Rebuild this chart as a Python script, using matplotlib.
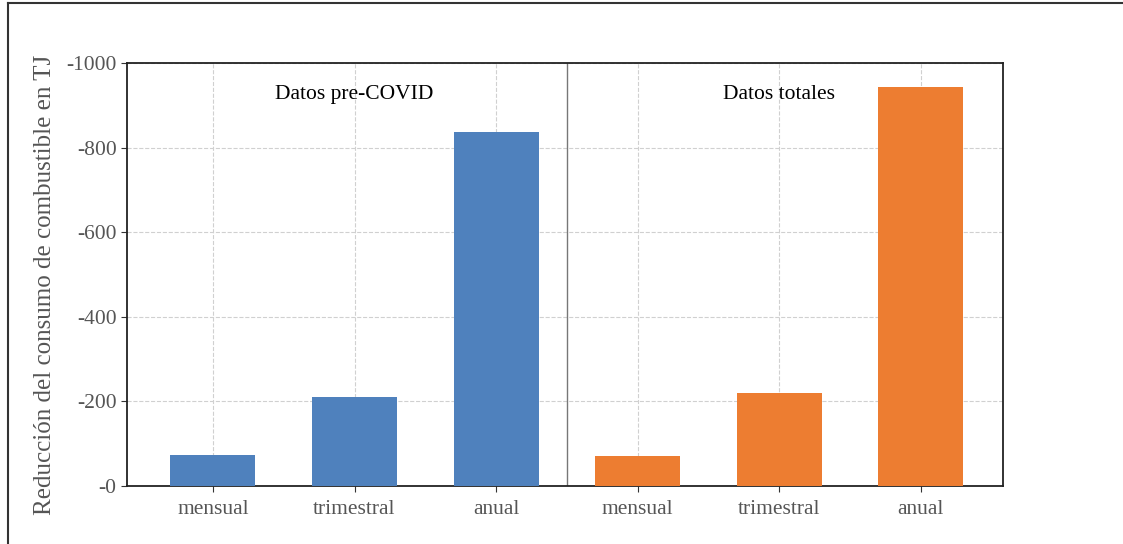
import numpy as np
from matplotlib import pyplot as plt
from matplotlib.lines import Line2D

plt.rcParams['font.family'] = ['Liberation Serif', 'DejaVu Serif']

categories = ['mensual', 'trimestral', 'anual']
pre_covid = [-73, -210, -837]
totales = [-71, -220, -943]
y_ticks = [0, -200, -400, -600, -800, -1000]
y_tick_labels = ['-0', '-200', '-400', '-600', '-800', '-1000']

blue = '#4f81bd'
orange = '#ed7d31'

fig = plt.figure(figsize=(11.23, 5.44), dpi=100)
ax = fig.add_axes([127 / 1123, 1 - 486 / 544, 876 / 1123, 423 / 544])

x_pre = np.arange(3)
x_tot = np.arange(3) + 3
ax.bar(x_pre, pre_covid, width=0.6, color=blue, zorder=3)
ax.bar(x_tot, totales, width=0.6, color=orange, zorder=3)

ax.axvline(2.5, color='#777777', lw=1.0, zorder=2)

ax.set_xlim(-0.607, 5.58)
ax.set_ylim(0, -1000)
ax.set_yticks(y_ticks)
ax.set_yticklabels(y_tick_labels)
ax.set_xticks(list(x_pre) + list(x_tot))
ax.set_xticklabels(categories + categories)

ax.grid(True, ls='--', color='#d0d0d0', lw=0.8, zorder=0)
ax.tick_params(labelsize=15.5, labelcolor='#555555', color='#333333',
               direction='out', length=4)
ax.tick_params(axis='x', pad=6)
for s in ax.spines.values():
    s.set_color('#222222')
    s.set_linewidth(1.3)

ax.text(1, -925, 'Datos pre-COVID', ha='center', va='center', fontsize=15.5)
ax.text(4, -925, 'Datos totales', ha='center', va='center', fontsize=15.5)

ax.set_ylabel('Reducción del consumo de combustible en TJ', fontsize=18,
              color='#555555')
ax.yaxis.set_label_coords(-0.081, 0.476)

# frame around the figure (left and top edges visible)
fig.add_artist(Line2D([8 / 1123, 8 / 1123], [0, 1 - 3 / 544],
                      transform=fig.transFigure, color='#333333', lw=1.5))
fig.add_artist(Line2D([8 / 1123, 1], [1 - 3 / 544, 1 - 3 / 544],
                      transform=fig.transFigure, color='#333333', lw=1.5))

fig.savefig('out.png', dpi=100)
